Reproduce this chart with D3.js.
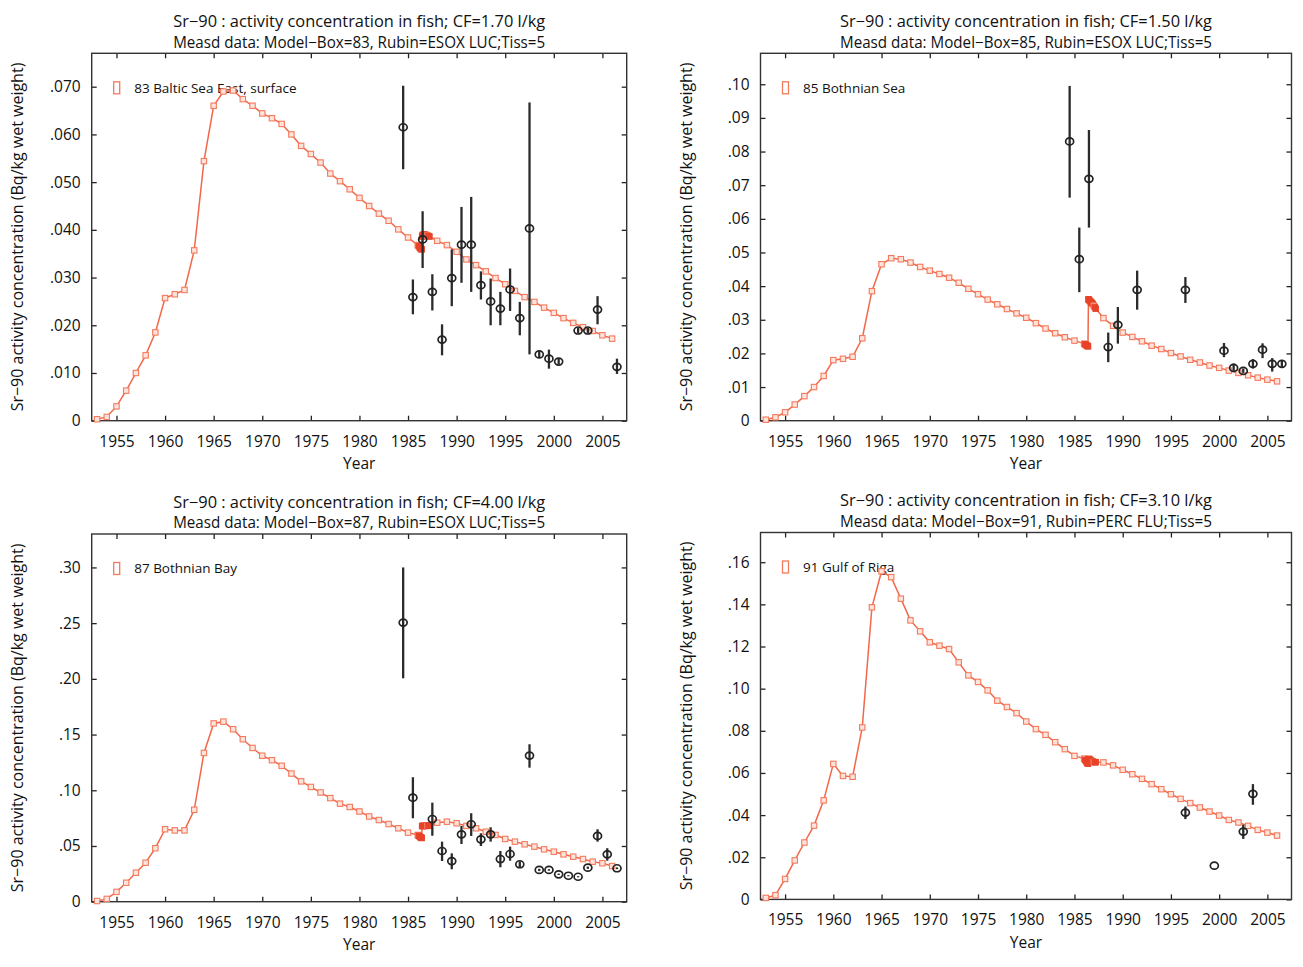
<!DOCTYPE html>
<html>
<head>
<meta charset="utf-8">
<script src="https://cdn.jsdelivr.net/npm/d3@7"></script>
<style>
  body { margin: 0; background: #fff; }
  text { font-family: "Open Sans", sans-serif; fill: #111; }
</style>
</head>
<body>
<svg id="chart" width="1303" height="967"></svg>
<script>
// ---------------- data ----------------

// yearly model output, 1953 .. 2006
var modelYears = [1953, 1954, 1955, 1956, 1957, 1958, 1959, 1960, 1961, 1962,
  1963, 1964, 1965, 1966, 1967, 1968, 1969, 1970, 1971, 1972,
  1973, 1974, 1975, 1976, 1977, 1978, 1979, 1980, 1981, 1982,
  1983, 1984, 1985, 1986, 1987, 1988, 1989, 1990, 1991, 1992,
  1993, 1994, 1995, 1996, 1997, 1998, 1999, 2000, 2001, 2002,
  2003, 2004, 2005, 2006];

// sub-yearly model steps around the 1986 (Chernobyl) input
var burstTimes = [1986.1, 1986.2, 1986.3, 1986.35, 1986.4, 1986.45, 1986.5,
  1986.6, 1986.7, 1986.8, 1986.9, 1987.1, 1987.2];

var xTicks = [1955, 1960, 1965, 1970, 1975, 1980, 1985, 1990, 1995, 2000, 2005];

// --- box 83, Baltic Sea East
var modelBaltic = [0.0003, 0.0008, 0.0030, 0.0063, 0.0100, 0.0137, 0.0185, 0.0257, 0.0265, 0.0274,
  0.0357, 0.0544, 0.0660, 0.0690, 0.0692, 0.0674, 0.0660, 0.0644, 0.0634, 0.0622,
  0.0600, 0.0576, 0.0559, 0.0541, 0.0518, 0.0502, 0.0485, 0.0467, 0.0450, 0.0434,
  0.0419, 0.0401, 0.0384, 0.0368, 0.0388, 0.0377, 0.0368, 0.0354, 0.0338, 0.0326,
  0.0313, 0.0299, 0.0286, 0.0272, 0.0259, 0.0249, 0.0237, 0.0226, 0.0215, 0.0205,
  0.0196, 0.0188, 0.0179, 0.0172];
var burstBaltic = [0.0366, 0.0363, 0.0361, 0.0360, 0.0359, 0.0386, 0.0389,
  0.0390, 0.0390, 0.0389, 0.0389, 0.0387, 0.0386];
var measYearsBaltic = [1984.5, 1985.5, 1986.5, 1987.5, 1988.5, 1989.5, 1990.5, 1991.5, 1992.5, 1993.5,
  1994.5, 1995.5, 1996.5, 1997.5, 1998.5, 1999.5, 2000.5, 2002.5, 2003.5, 2004.5, 2006.5];
var measBaltic = [0.0615, 0.0259, 0.0380, 0.0270, 0.0170, 0.0299, 0.0369, 0.0369, 0.0284, 0.0250,
  0.0235, 0.0275, 0.0215, 0.0403, 0.0139, 0.0130, 0.0124, 0.0189, 0.0189, 0.0233, 0.0113];
var measLoBaltic = [0.0527, 0.0223, 0.0320, 0.0231, 0.0137, 0.0240, 0.0289, 0.0270, 0.0254, 0.0200,
  0.0200, 0.0230, 0.0179, 0.0139, 0.0132, 0.0109, 0.0118, 0.0183, 0.0183, 0.0202, 0.0098];
var measHiBaltic = [0.0702, 0.0296, 0.0439, 0.0307, 0.0202, 0.0359, 0.0448, 0.0469, 0.0313, 0.0298,
  0.0270, 0.0319, 0.0249, 0.0667, 0.0146, 0.0149, 0.0130, 0.0195, 0.0195, 0.0261, 0.0130];
var yTicksBaltic = [0, 0.01, 0.02, 0.03, 0.04, 0.05, 0.06, 0.07];

// --- box 85, Bothnian Sea
var modelBSea = [0.0003, 0.0010, 0.0025, 0.0048, 0.0073, 0.0100, 0.0133, 0.0180, 0.0184, 0.0190,
  0.0245, 0.0385, 0.0465, 0.0483, 0.0480, 0.0470, 0.0457, 0.0446, 0.0436, 0.0425,
  0.0410, 0.0392, 0.0376, 0.0360, 0.0346, 0.0332, 0.0319, 0.0306, 0.0290, 0.0274,
  0.0260, 0.0248, 0.0238, 0.0229, 0.0342, 0.0305, 0.0282, 0.0262, 0.0249, 0.0236,
  0.0223, 0.0213, 0.0201, 0.0191, 0.0181, 0.0173, 0.0164, 0.0157, 0.0149, 0.0142,
  0.0135, 0.0128, 0.0122, 0.0117];
var burstBSea = [0.0227, 0.0225, 0.0223, 0.0222, 0.0221, 0.0361, 0.0359,
  0.0356, 0.0353, 0.0350, 0.0347, 0.0338, 0.0333];
var measYearsBSea = [1984.5, 1985.5, 1986.5, 1988.5, 1989.5, 1991.5, 1996.5, 2000.5, 2001.5, 2002.5,
  2003.5, 2004.5, 2005.5, 2006.5];
var measBSea = [0.0830, 0.0480, 0.0719, 0.0219, 0.0285, 0.0389, 0.0389, 0.0208, 0.0157, 0.0148,
  0.0169, 0.0211, 0.0169, 0.0169];
var measLoBSea = [0.0663, 0.0382, 0.0574, 0.0174, 0.0229, 0.0330, 0.0350, 0.0189, 0.0148, 0.0142,
  0.0155, 0.0186, 0.0146, 0.0160];
var measHiBSea = [0.0995, 0.0574, 0.0864, 0.0262, 0.0338, 0.0446, 0.0427, 0.0231, 0.0170, 0.0155,
  0.0183, 0.0230, 0.0186, 0.0178];
var yTicksBSea = [0, 0.01, 0.02, 0.03, 0.04, 0.05, 0.06, 0.07, 0.08, 0.09, 0.10];

// --- box 87, Bothnian Bay
var modelBBay = [0.0006, 0.0025, 0.0088, 0.0170, 0.0260, 0.0350, 0.0480, 0.0650, 0.0640, 0.0640,
  0.0825, 0.1335, 0.1600, 0.1616, 0.1548, 0.1458, 0.1380, 0.1310, 0.1270, 0.1220,
  0.1150, 0.1080, 0.1030, 0.0980, 0.0930, 0.0880, 0.0850, 0.0810, 0.0765, 0.0733,
  0.0697, 0.0659, 0.0620, 0.0599, 0.0681, 0.0709, 0.0718, 0.0704, 0.0680, 0.0659,
  0.0628, 0.0599, 0.0563, 0.0539, 0.0515, 0.0494, 0.0470, 0.0449, 0.0425, 0.0404,
  0.0383, 0.0359, 0.0345, 0.0320];
var burstBBay = [0.0592, 0.0585, 0.0578, 0.0575, 0.0572, 0.0679, 0.0680,
  0.0680, 0.0680, 0.0681, 0.0681, 0.0682, 0.0684];
var measYearsBBay = [1984.5, 1985.5, 1987.5, 1988.5, 1989.5, 1990.5, 1991.5, 1992.5, 1993.5, 1994.5,
  1995.5, 1996.5, 1997.5, 1998.5, 1999.5, 2000.5, 2001.5, 2002.5, 2003.5, 2004.5, 2005.5, 2006.5];
var measBBay = [0.2505, 0.0934, 0.0742, 0.0455, 0.0365, 0.0605, 0.0695, 0.0560, 0.0605, 0.0383,
  0.0428, 0.0336, 0.1311, 0.0285, 0.0285, 0.0246, 0.0233, 0.0224, 0.0305, 0.0590, 0.0425, 0.0300];
var measLoBBay = [0.2005, 0.0749, 0.0592, 0.0365, 0.0291, 0.0518, 0.0590, 0.0500, 0.0539, 0.0309,
  0.0368, 0.0310, 0.1203, 0.0275, 0.0278, 0.0240, 0.0228, 0.0219, 0.0295, 0.0539, 0.0368, 0.0292];
var measHiBBay = [0.3000, 0.1117, 0.0889, 0.0539, 0.0434, 0.0680, 0.0794, 0.0614, 0.0668, 0.0455,
  0.0494, 0.0362, 0.1413, 0.0295, 0.0292, 0.0252, 0.0238, 0.0229, 0.0315, 0.0650, 0.0480, 0.0308];
var yTicksBBay = [0, 0.05, 0.10, 0.15, 0.20, 0.25, 0.30];

// --- box 91, Gulf of Riga
var modelRiga = [0.0007, 0.0020, 0.0097, 0.0185, 0.0270, 0.0350, 0.0470, 0.0643, 0.0586, 0.0582,
  0.0816, 0.1386, 0.1557, 0.1529, 0.1427, 0.1324, 0.1272, 0.1220, 0.1204, 0.1188,
  0.1125, 0.1063, 0.1032, 0.0992, 0.0943, 0.0913, 0.0884, 0.0844, 0.0808, 0.0781,
  0.0746, 0.0713, 0.0681, 0.0668, 0.0652, 0.0650, 0.0636, 0.0615, 0.0594, 0.0572,
  0.0547, 0.0523, 0.0499, 0.0477, 0.0457, 0.0436, 0.0417, 0.0398, 0.0377, 0.0365,
  0.0349, 0.0330, 0.0317, 0.0303];
var burstRiga = [0.0662, 0.0656, 0.0650, 0.0647, 0.0644, 0.0665, 0.0667,
  0.0663, 0.0659, 0.0656, 0.0654, 0.0651, 0.0651];
var measYearsRiga = [1996.5, 1999.5, 2002.5, 2003.5];
var measRiga = [0.0412, 0.0160, 0.0322, 0.0501];
var measLoRiga = [0.0381, 0.0160, 0.0287, 0.0449];
var measHiRiga = [0.0441, 0.0160, 0.0354, 0.0547];
var yTicksRiga = [0, 0.02, 0.04, 0.06, 0.08, 0.10, 0.12, 0.14, 0.16];

var titleLine1 = ["Sr\u221290 : activity concentration in fish; CF=1.70 l/kg",
  "Sr\u221290 : activity concentration in fish; CF=1.50 l/kg",
  "Sr\u221290 : activity concentration in fish; CF=4.00 l/kg",
  "Sr\u221290 : activity concentration in fish; CF=3.10 l/kg"];
var titleLine2 = ["Measd data: Model\u2212Box=83, Rubin=ESOX LUC;Tiss=5",
  "Measd data: Model\u2212Box=85, Rubin=ESOX LUC;Tiss=5",
  "Measd data: Model\u2212Box=87, Rubin=ESOX LUC;Tiss=5",
  "Measd data: Model\u2212Box=91, Rubin=PERC FLU;Tiss=5"];
var legendNames = ["83 Baltic Sea East, surface", "85 Bothnian Sea", "87 Bothnian Bay", "91 Gulf of Riga"];
var yLabel = "Sr\u221290 activity concentration (Bq/kg wet weight)";

// ---------------- layout ----------------
var svg = d3.select("#chart");
var xDomain = [1952.45, 2007.5];
var lineColor = "#f2674a", markColor = "#f47a5c", burstColor = "#e8432a";

var panels = [
  {left: 91.7, width: 535, top: 53.3, bottom: 420.7, yMax: 0.0770, fmt: ".3f", model: modelBaltic, burst: burstBaltic,
   mx: measYearsBaltic, my: measBaltic, lo: measLoBaltic, hi: measHiBaltic, ticks: yTicksBaltic},
  {left: 760.5, width: 531, top: 53.3, bottom: 420.7, yMax: 0.1092, fmt: ".2f", model: modelBSea, burst: burstBSea,
   mx: measYearsBSea, my: measBSea, lo: measLoBSea, hi: measHiBSea, ticks: yTicksBSea},
  {left: 91.7, width: 535, top: 534, bottom: 901.7, yMax: 0.330, fmt: ".2f", model: modelBBay, burst: burstBBay,
   mx: measYearsBBay, my: measBBay, lo: measLoBBay, hi: measHiBBay, ticks: yTicksBBay},
  {left: 760.5, width: 531, top: 532.5, bottom: 899.4, yMax: 0.1741, fmt: ".2f", model: modelRiga, burst: burstRiga,
   mx: measYearsRiga, my: measRiga, lo: measLoRiga, hi: measHiRiga, ticks: yTicksRiga}
];

panels.forEach(function(p, i) {
  var w = p.width, h = p.bottom - p.top;
  var g = svg.append("g").attr("transform", "translate(" + p.left + "," + p.top + ")");

  var x = d3.scaleLinear().domain(xDomain).range([0, w]);
  var y = d3.scaleLinear().domain([0, p.yMax]).range([h, 0]);
  var f = d3.format(p.fmt);
  var yFmt = function(v) { return v === 0 ? "0" : f(v).replace(/^0/, ""); };

  // axes: ticks inward on all four sides, labels only bottom and left
  g.append("g").attr("class", "axis")
    .attr("transform", "translate(0," + h + ")")
    .call(d3.axisBottom(x).tickValues(xTicks).tickFormat(d3.format("d")).tickSizeInner(-5).tickSizeOuter(0).tickPadding(15));
  g.append("g").attr("class", "axis")
    .call(d3.axisTop(x).tickValues(xTicks).tickFormat("").tickSizeInner(-5).tickSizeOuter(0));
  g.append("g").attr("class", "axis")
    .call(d3.axisLeft(y).tickValues(p.ticks).tickFormat(yFmt).tickSizeInner(-5).tickSizeOuter(0).tickPadding(11));
  g.append("g").attr("class", "axis")
    .attr("transform", "translate(" + w + ",0)")
    .call(d3.axisRight(y).tickValues(p.ticks).tickFormat("").tickSizeInner(-5).tickSizeOuter(0));
  g.selectAll(".axis .domain").remove();
  g.selectAll(".axis line").attr("stroke", "#222").attr("stroke-width", 1.3);
  g.selectAll(".axis text").attr("font-size", 15.5).attr("font-family", "Open Sans").attr("fill", "#111");

  g.append("rect").attr("width", w).attr("height", h)
    .attr("fill", "none").attr("stroke", "#333").attr("stroke-width", 1.4);

  // two-line title
  g.append("text").attr("x", w / 2).attr("y", -31.5).attr("dy", "0.35em")
    .attr("text-anchor", "middle").attr("font-family", "Roboto").attr("font-size", 15.5)
    .attr("textLength", 372).attr("lengthAdjust", "spacingAndGlyphs").text(titleLine1[i]);
  g.append("text").attr("x", w / 2).attr("y", -11).attr("dy", "0.35em")
    .attr("text-anchor", "middle").attr("font-family", "Roboto").attr("font-size", 15.5)
    .attr("textLength", 372).attr("lengthAdjust", "spacingAndGlyphs").text(titleLine2[i]);

  g.append("text").attr("x", w / 2).attr("y", h + 43).attr("dy", "0.35em")
    .attr("text-anchor", "middle").attr("font-size", 15.5).text("Year");
  g.append("text")
    .attr("transform", "translate(-74," + (h / 2) + ") rotate(-90)")
    .attr("dy", "0.35em").attr("text-anchor", "middle").attr("font-size", 16).text(yLabel);

  // legend
  g.append("rect").attr("x", 22).attr("y", 28.5).attr("width", 6).attr("height", 12)
    .attr("fill", "#fff").attr("stroke", markColor).attr("stroke-width", 1.3);
  g.append("text").attr("x", 42.5).attr("y", 34.5).attr("dy", "0.35em")
    .attr("font-size", 13.5).text(legendNames[i]);

  // model series: yearly values plus the 1986 sub-yearly steps
  var pts = modelYears.map(function(t, k) { return {t: t, v: p.model[k], burst: false}; })
    .concat(burstTimes.map(function(t, k) { return {t: t, v: p.burst[k], burst: true}; }))
    .sort(function(a, b) { return a.t - b.t; });

  var line = d3.line().x(function(d) { return x(d.t); }).y(function(d) { return y(d.v); });
  g.append("path").datum(pts).attr("d", line)
    .attr("fill", "none").attr("stroke", lineColor).attr("stroke-width", 1.5);

  g.selectAll(".sq").data(pts).enter().append("rect")
    .attr("x", function(d) { return x(d.t) - 2.7; })
    .attr("y", function(d) { return y(d.v) - 2.7; })
    .attr("width", 5.4).attr("height", 5.4)
    .attr("fill", function(d) { return d.burst ? burstColor : "#fde3db"; })
    .attr("stroke", function(d) { return d.burst ? burstColor : markColor; })
    .attr("stroke-width", 1.1);

  // measurements with error bars
  var meas = p.mx.map(function(t, k) { return {t: t, v: p.my[k], lo: p.lo[k], hi: p.hi[k]}; });
  g.selectAll(".err").data(meas).enter().append("line")
    .attr("x1", function(d) { return x(d.t); }).attr("x2", function(d) { return x(d.t); })
    .attr("y1", function(d) { return y(d.lo); }).attr("y2", function(d) { return y(d.hi); })
    .attr("stroke", "#2b2b2b").attr("stroke-width", 2.3);
  g.selectAll(".pt").data(meas).enter().append("ellipse")
    .attr("cx", function(d) { return x(d.t); }).attr("cy", function(d) { return y(d.v); })
    .attr("rx", 4).attr("ry", 3.5)
    .attr("fill", "none").attr("stroke", "#222").attr("stroke-width", 1.7);
});
</script>
</body>
</html>
